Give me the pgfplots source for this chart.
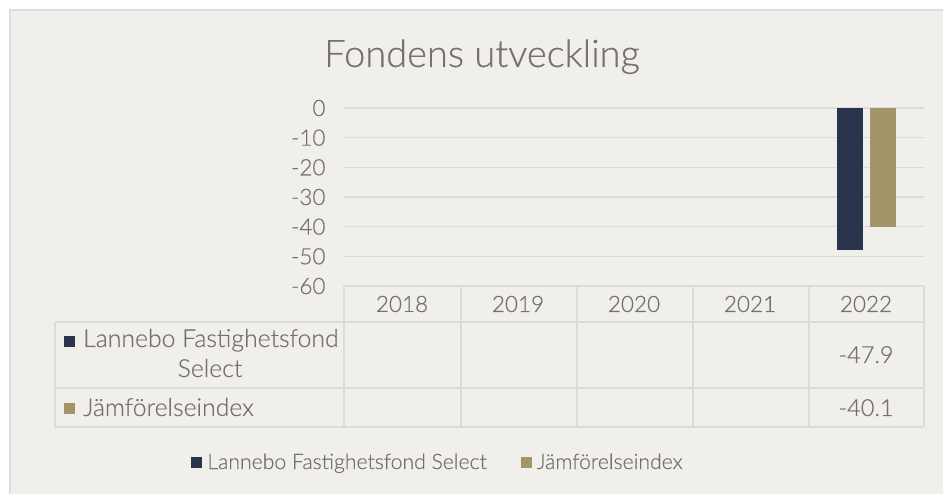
\documentclass[border=0pt]{standalone}
\usepackage{fontspec}
\setmainfont{Lato Light}[FakeBold=0.4]
\usepackage{pgfplots}
\pgfplotsset{compat=1.18}
\definecolor{bg}{HTML}{F0EFEC}
\definecolor{framec}{HTML}{DEDEDE}
\definecolor{gridc}{HTML}{DCDBD9}
\definecolor{textgray}{HTML}{767171}
\definecolor{navy}{HTML}{28344C}
\definecolor{khaki}{HTML}{A39567}
\newcommand{\lbl}{\fontsize{22.5bp}{26bp}\selectfont}
\newcommand{\tbl}{\fontsize{24.8bp}{28bp}\selectfont}
\newcommand{\leg}{\fontsize{21.2bp}{25bp}\selectfont}
\begin{document}
\begin{tikzpicture}[x=1bp,y=1bp]
\useasboundingbox (0,0) rectangle (943,494);
\fill[white] (0,0) rectangle (943,494);
\fill[bg] (10,0) rectangle (943,484);
\draw[framec, line width=1.5bp] (10,0) -- (10,484) -- (943,484);
\begin{axis}[
  at={(344bp,208bp)}, anchor=south west,
  scale only axis, width=580bp, height=178bp,
  ybar=7bp, bar width=26bp,
  xmin=-0.5, xmax=4.5, ymin=-60, ymax=0,
  xtick={0,1,2,3,4}, xticklabels={2018,2019,2020,2021,2022},
  ytick={0,-10,-20,-30,-40,-50,-60},
  major tick length=0pt,
  axis line style={draw=none},
  ymajorgrids, grid style={gridc, line width=1.3bp},
  tick label style={font=\lbl, text=textgray},
  /pgf/number format/assume math mode=true,
  xticklabel style={anchor=center, yshift=-18bp},
  yticklabel style={xshift=-15bp},
  legend columns=2,
  legend style={at={(0.162,-0.989)}, anchor=center, draw=none, fill=none,
    font=\leg, text=textgray,
    /tikz/every odd column/.append style={column sep=3bp},
    /tikz/every even column/.append style={column sep=32bp}},
]
\addplot[fill=navy, draw=none, legend image code/.code={\fill[navy] (0bp,-5.5bp) rectangle (11bp,5.5bp);}] coordinates {(4,-47.9)};
\addlegendentry{Lannebo Fastighetsfond Select}
\addplot[fill=khaki, draw=none, legend image code/.code={\fill[khaki] (0bp,-5.5bp) rectangle (11bp,5.5bp);}] coordinates {(4,-40.1)};
\addlegendentry{Jämförelseindex}
\end{axis}
% data table grid
\begin{scope}[gridc, line width=1.5bp]
\draw (344,208) -- (924,208);
\draw (55,172) -- (924,172);
\draw (55,106) -- (924,106);
\draw (55,67) -- (924,67);
\draw (55,67) -- (55,172);
\foreach \x in {344,461,577,693,809,924} \draw (\x,67) -- (\x,208);
\end{scope}
\node[anchor=base, font=\fontsize{38bp}{42bp}\selectfont, text=textgray] at (482,427) {Fondens utveckling};
\fill[navy] (64,147) rectangle (75,158);
\node[anchor=base west, inner sep=0pt, font=\tbl, text=textgray] at (83,147) {Lannebo Fastighetsfond};
\node[anchor=base, inner sep=0pt, font=\tbl, text=textgray] at (210,117) {Select};
\fill[khaki] (64,80) rectangle (75,91);
\node[anchor=base west, inner sep=0pt, font=\tbl, text=textgray] at (83,78) {Jämförelseindex};
\node[anchor=base, inner sep=0pt, font=\fontsize{23.5bp}{27bp}\selectfont, text=textgray] at (866,131) {-47.9};
\node[anchor=base, inner sep=0pt, font=\fontsize{23.5bp}{27bp}\selectfont, text=textgray] at (866,78) {-40.1};
\end{tikzpicture}
\end{document}
